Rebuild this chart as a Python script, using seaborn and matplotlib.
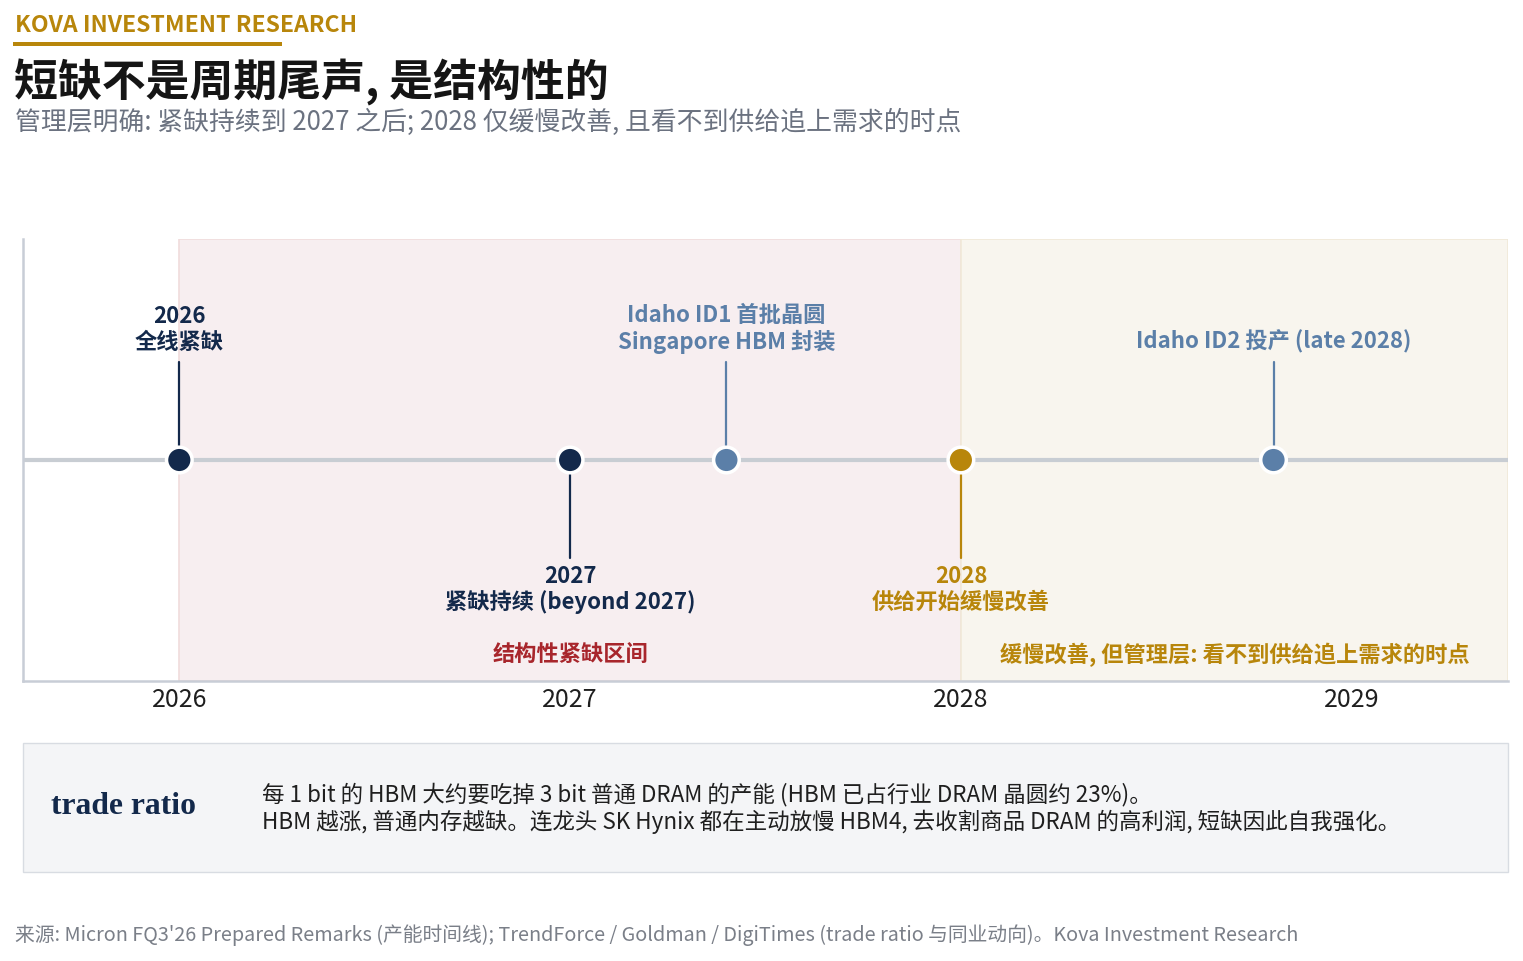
import numpy as np
import pandas as pd
import seaborn as sns
from matplotlib import pyplot as plt
from matplotlib.patches import Rectangle

# timeline data
event_dates = [2026.0, 2027.0, 2027.4, 2028.0, 2028.8]
event_labels = ["2026\n全线紧缺",
                "2027\n紧缺持续 (beyond 2027)",
                "Idaho ID1 首批晶圆\nSingapore HBM 封装",
                "2028\n供给开始缓慢改善",
                "Idaho ID2 投产 (late 2028)"]
event_side = ["up", "down", "up", "down", "up"]
event_kind = ["navy", "navy", "steel", "gold", "steel"]

zone_starts = [2026.0, 2028.0]
zone_ends = [2028.0, 2029.4]
zone_labels = ["结构性紧缺区间", "缓慢改善, 但管理层: 看不到供给追上需求的时点"]
zone_label_x = [2027.0, 2028.7]

year_ticks = [2026, 2027, 2028, 2029]

colors = {"navy": "#13294b", "steel": "#5b7fa8", "gold": "#b8860b"}
zone_fill = ["#f7eef0", "#f8f5ee"]
zone_edge = ["#f0dcdc", "#f0e8d8"]
zone_text = ["#a8262c", "#b8860b"]

sns.set_theme(style="white")
plt.rcParams['font.family'] = ['Noto Sans CJK SC', 'DejaVu Sans']

fig = plt.figure(figsize=(15.23, 9.61), dpi=100)
ax = fig.add_axes([23/1523, 280/961, 1485/1523, 442/961])

df = pd.DataFrame({"date": event_dates, "y": 0.5, "kind": event_kind})

#shaded zones
for s, e, fc, ec in zip(zone_starts, zone_ends, zone_fill, zone_edge):
    ax.axvspan(s, e, ymin=0, ymax=1, facecolor=fc, edgecolor=ec, linewidth=1.2, zorder=0)

#main line
ax.axhline(0.5, color="#c8cdd3", linewidth=3, zorder=1)

#stems + labels
for d, lab, side, k in zip(event_dates, event_labels, event_side, event_kind):
    c = colors[k]
    if side == "up":
        ax.plot([d, d], [0.5, 0.722], color=c, linewidth=1.6, zorder=2)
        ax.text(d, 0.740, lab, ha="center", va="bottom", fontsize=16, fontweight="bold",
                color=c, linespacing=1.15)
    else:
        ax.plot([d, d], [0.5, 0.278], color=c, linewidth=1.6, zorder=2)
        ax.text(d, 0.263, lab, ha="center", va="top", fontsize=16, fontweight="bold",
                color=c, linespacing=1.15)

sns.scatterplot(data=df, x="date", y="y", hue="kind", palette=colors, s=340,
                edgecolor="white", linewidth=2.5, legend=False, zorder=5, ax=ax)

for lx, lab, tc in zip(zone_label_x, zone_labels, zone_text):
    ax.text(lx, 0.059, lab, ha="center", va="center", fontsize=16, fontweight="bold", color=tc)

ax.set_xlim(2025.6, 2029.4)
ax.set_ylim(0, 1)
ax.set_xticks(year_ticks)
ax.set_xticklabels([str(t) for t in year_ticks], fontsize=18, color="#1f1f1f")
ax.tick_params(axis="x", length=0, pad=4)
ax.set_yticks([])
ax.set_xlabel("")
ax.set_ylabel("")
for sp in ["top", "right"]:
    ax.spines[sp].set_visible(False)
for sp in ["left", "bottom"]:
    ax.spines[sp].set_color("#c8cdd6")
    ax.spines[sp].set_linewidth(1.8)

#header
fig.text(15/1523, 1 - 26/961, "KOVA INVESTMENT RESEARCH", fontsize=16.6, fontweight="bold",
         color="#b8860b", va="center", ha="left")
fig.add_artist(Rectangle((13/1523, 1 - 46/961), 269/1523, 4/961, transform=fig.transFigure,
                         facecolor="#b8860b", edgecolor="none"))
fig.text(14/1523, 1 - 82/961, "短缺不是周期尾声, 是结构性的", fontsize=31.6, fontweight="bold",
         color="#151515", va="center", ha="left")
fig.text(15/1523, 1 - 122/961, "管理层明确: 紧缺持续到 2027 之后; 2028 仅缓慢改善, 且看不到供给追上需求的时点",
         fontsize=18.6, color="#6b7280", va="center", ha="left")

#trade ratio box
fig.add_artist(Rectangle((23/1523, 1 - 872/961), 1485/1523, 129/961, transform=fig.transFigure,
                         facecolor="#f4f5f7", edgecolor="#d8dce2", linewidth=1))
fig.text(51/1523, 1 - 806/961, "trade ratio", fontsize=22.8, fontweight="bold",
         family=["Liberation Serif", "DejaVu Serif"], color="#13294b", va="center", ha="left")
fig.text(262/1523, 1 - 795/961, "每 1 bit 的 HBM 大约要吃掉 3 bit 普通 DRAM 的产能 (HBM 已占行业 DRAM 晶圆约 23%)。",
         fontsize=16.2, color="#1f1f1f", va="center", ha="left")
fig.text(262/1523, 1 - 822/961, "HBM 越涨, 普通内存越缺。连龙头 SK Hynix 都在主动放慢 HBM4, 去收割商品 DRAM 的高利润, 短缺因此自我强化。",
         fontsize=16.2, color="#1f1f1f", va="center", ha="left")

#footer
fig.text(15/1523, 1 - 935/961,
         "来源: Micron FQ3'26 Prepared Remarks (产能时间线); TrendForce / Goldman / DigiTimes (trade ratio 与同业动向)。Kova Investment Research",
         fontsize=14.25, color="#7a7f88", va="center", ha="left")

fig.savefig("out.png", dpi=100)
